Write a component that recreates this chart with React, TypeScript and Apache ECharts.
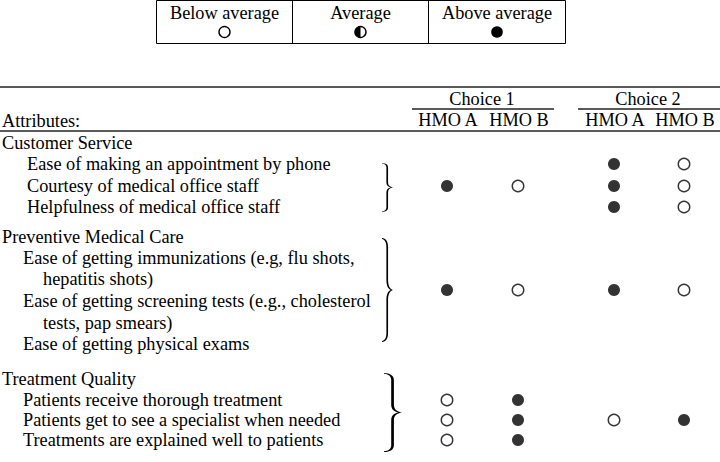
import React, { useEffect, useRef } from "react";
import * as echarts from "echarts";

// Rating codes: 0 = Below average, 1 = Average, 2 = Above average
const legendLabels = ["Below average", "Average", "Above average"];
const choiceLabels = ["Choice 1", "Choice 2"];
const columnLabels = ["HMO A", "HMO B", "HMO A", "HMO B"];

// Attribute text lines (h = section, cs/i = item, c = wrapped continuation)
const attributeLines: [string, string][] = [
  ["Customer Service", "h"],
  ["Ease of making an appointment by phone", "cs"],
  ["Courtesy of medical office staff", "cs"],
  ["Helpfulness of medical office staff", "cs"],
  ["Preventive Medical Care", "h"],
  ["Ease of getting immunizations (e.g, flu shots,", "i"],
  ["hepatitis shots)", "c"],
  ["Ease of getting screening tests (e.g., cholesterol", "i"],
  ["tests, pap smears)", "c"],
  ["Ease of getting physical exams", "i"],
  ["Treatment Quality", "h"],
  ["Patients receive thorough treatment", "i"],
  ["Patients get to see a specialist when needed", "i"],
  ["Treatments are explained well to patients", "i"],
];

// Ratings per section (HMO A, HMO B), group-level or per item
const csChoice1 = [2, 0];
const csChoice2HmoA = [2, 2, 2];
const csChoice2HmoB = [0, 0, 0];
const pmcChoice1 = [2, 0];
const pmcChoice2 = [2, 0];
const tqChoice1HmoA = [0, 0, 0];
const tqChoice1HmoB = [2, 2, 2];
const tqChoice2 = [0, 2];

// ---- layout (pixels) ----
const W = 720;
const H = 462;
const LINE_Y = [143, 164, 186, 207, 237, 258, 279, 301, 323, 344, 379, 400, 420, 440];
const INDENT: Record<string, number> = { h: 2, cs: 27, i: 23, c: 43 };
const COL_X = [447, 518, 614, 684];
const CHOICE_X = [482, 648];
const FONT = "18.3px 'Liberation Serif', 'Times New Roman', serif";
const INK = "#000";

function lineY(pos: number) {
  const i = Math.floor(pos);
  const f = pos - i;
  if (f === 0) return LINE_Y[i];
  return LINE_Y[i] + (LINE_Y[i + 1] - LINE_Y[i]) * f;
}

// build marker points [x, y, rating]
function buildPoints() {
  const pts: number[][] = [];
  // Customer Service: lines 1..3, group center line 2
  pts.push([COL_X[0], lineY(2), csChoice1[0]]);
  pts.push([COL_X[1], lineY(2), csChoice1[1]]);
  csChoice2HmoA.forEach((v, k) => pts.push([COL_X[2], lineY(1 + k), v]));
  csChoice2HmoB.forEach((v, k) => pts.push([COL_X[3], lineY(1 + k), v]));
  // Preventive Medical Care: between lines 6 and 7
  pts.push([COL_X[0], lineY(6.5), pmcChoice1[0]]);
  pts.push([COL_X[1], lineY(6.5), pmcChoice1[1]]);
  pts.push([COL_X[2], lineY(6.5), pmcChoice2[0]]);
  pts.push([COL_X[3], lineY(6.5), pmcChoice2[1]]);
  // Treatment Quality: lines 11..13, group center line 12
  tqChoice1HmoA.forEach((v, k) => pts.push([COL_X[0], lineY(11 + k), v]));
  tqChoice1HmoB.forEach((v, k) => pts.push([COL_X[1], lineY(11 + k), v]));
  pts.push([COL_X[2], lineY(12), tqChoice2[0]]);
  pts.push([COL_X[3], lineY(12), tqChoice2[1]]);
  return pts;
}

const BRACE_D =
  "M0,0 C3.5,0.5 5.5,3 5.5,9 L5.5,40 C5.5,46 7,49 10,50 C7,51 5.5,54 5.5,60 L5.5,91 C5.5,97 3.5,99.5 0,100 " +
  "L0,99 C2.5,98.5 4,96 4,91 L4,60 C4,54 5.5,51 8,50 C5.5,49 4,46 4,40 L4,9 C4,4 2.5,1.5 0,1 Z";

let braceRegistered = false;

export default function App() {
  const ref = useRef<HTMLDivElement>(null);
  useEffect(() => {
    if (!braceRegistered) {
      echarts.graphic.registerShape("brace", echarts.graphic.extendPath(BRACE_D, {}) as any);
      braceRegistered = true;
    }
    const chart = echarts.init(ref.current!, null, { renderer: "svg" });
    const pts = buildPoints();

    const txt = (x: number, y: number, text: string, align = "left") => ({
      type: "text",
      x,
      y,
      style: { text, font: FONT, fill: INK, textAlign: align, textVerticalAlign: "middle" },
      silent: true,
    });
    const hline = (x1: number, x2: number, y: number, lw = 1.5) => ({
      type: "line",
      shape: { x1, y1: y, x2, y2: y },
      style: { stroke: "#222", lineWidth: lw },
      silent: true,
    });
    const brace = (x: number, y1: number, y2: number, w: number) => ({
      type: "brace",
      x,
      y: y1,
      scaleX: w / 10,
      scaleY: (y2 - y1) / 100,
      style: { fill: INK, stroke: "none" },
      silent: true,
    });

    const graphics: any[] = [];
    // legend box
    const boxL = 156.5, boxR = 565.5, boxT = 0.5, boxB = 43.5;
    const divs = [292.5, 428.5];
    graphics.push({
      type: "rect",
      shape: { x: boxL, y: boxT, width: boxR - boxL, height: boxB - boxT },
      style: { fill: "none", stroke: "#000", lineWidth: 1 },
      silent: true,
    });
    divs.forEach((d) =>
      graphics.push({
        type: "line",
        shape: { x1: d, y1: boxT, x2: d, y2: boxB },
        style: { stroke: "#000", lineWidth: 1 },
        silent: true,
      })
    );
    const cellCenters = [(boxL + divs[0]) / 2, (divs[0] + divs[1]) / 2, (divs[1] + boxR) / 2];
    legendLabels.forEach((l, i) => graphics.push(txt(cellCenters[i], 13, l, "center")));
    // legend symbols
    graphics.push({
      type: "circle",
      shape: { cx: cellCenters[0], cy: 32, r: 5.5 },
      style: { fill: "#fff", stroke: INK, lineWidth: 1.4 },
      silent: true,
    });
    graphics.push({
      type: "circle",
      shape: { cx: cellCenters[1], cy: 32, r: 5.5 },
      style: { fill: "#fff", stroke: INK, lineWidth: 1.4 },
      silent: true,
    });
    graphics.push({
      type: "sector",
      shape: { cx: cellCenters[1], cy: 32, r0: 0, r: 5.8, startAngle: Math.PI / 2, endAngle: (Math.PI * 3) / 2, clockwise: true },
      style: { fill: INK },
      silent: true,
    });
    graphics.push({
      type: "circle",
      shape: { cx: cellCenters[2], cy: 32, r: 5.8 },
      style: { fill: INK },
      silent: true,
    });

    // header rules and labels
    graphics.push(hline(0, W, 87, 1.6));
    graphics.push(hline(412, 554, 109, 1.4));
    graphics.push(hline(578, W, 109, 1.4));
    graphics.push(hline(0, W, 131, 1.6));
    choiceLabels.forEach((c, i) => graphics.push(txt(CHOICE_X[i], 99, c, "center")));
    columnLabels.forEach((c, i) => graphics.push(txt(COL_X[i] + 1, 120, c, "center")));
    graphics.push(txt(2, 121, "Attributes:"));

    // attribute lines
    attributeLines.forEach(([t, lvl], i) => graphics.push(txt(INDENT[lvl], LINE_Y[i], t)));

    // braces
    graphics.push(brace(382, 163, 212, 11));
    graphics.push(brace(382, 238, 342, 11));
    graphics.push(brace(384, 373, 452, 18));

    const series = [0, 1, 2].map((r) => ({
      type: "scatter",
      name: legendLabels[r],
      data: pts.filter((p) => p[2] === r),
      symbol: "circle",
      symbolSize: r === 2 ? 12 : 11.5,
      itemStyle:
        r === 2
          ? { color: INK, borderWidth: 0 }
          : { color: "#fff", borderColor: INK, borderWidth: 1.4 },
      silent: true,
    }));

    chart.setOption({
      animation: false,
      backgroundColor: "#fff",
      grid: { left: 0, right: 0, top: 0, bottom: 0, containLabel: false },
      xAxis: { type: "value", min: 0, max: W, show: false },
      yAxis: { type: "value", min: 0, max: H, inverse: true, show: false },
      graphic: graphics,
      series,
    });
    return () => chart.dispose();
  }, []);
  return (
    <div
      ref={ref}
      style={{ position: "fixed", left: 0, top: 0, width: W, height: H, background: "#fff" }}
    />
  );
}
